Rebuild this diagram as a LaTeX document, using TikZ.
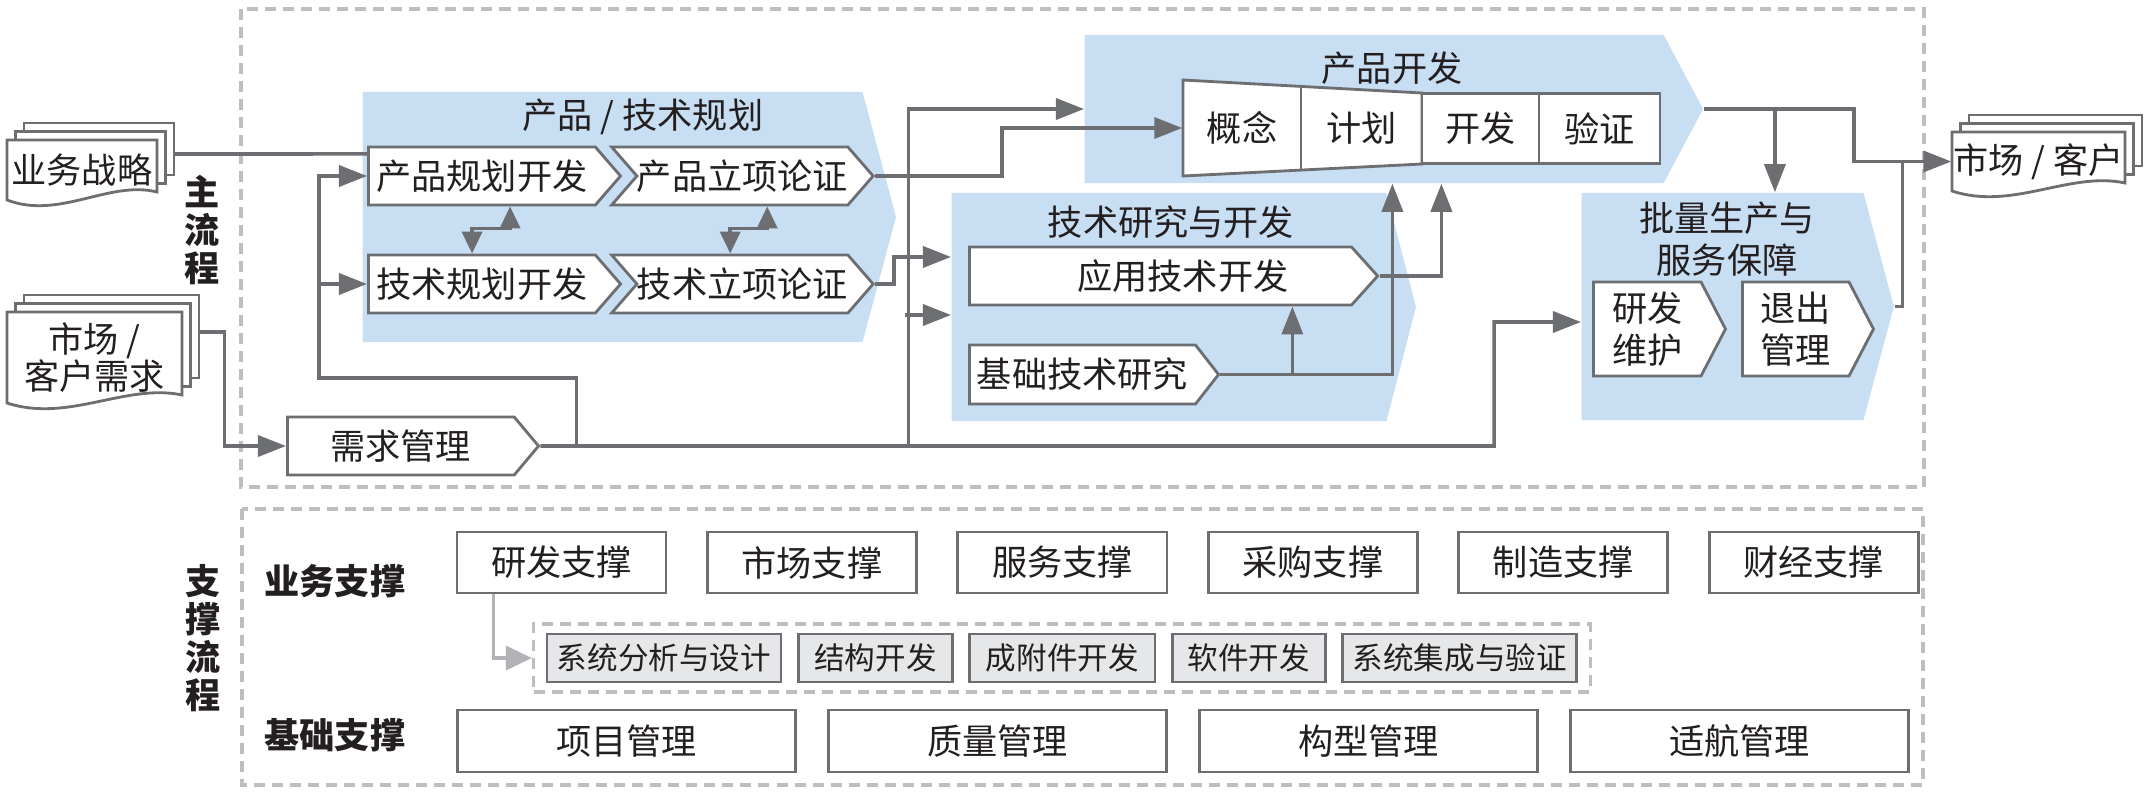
\documentclass[tikz,border=0pt]{standalone}
\usepackage{fontspec}
\newfontfamily\cjk{Noto Sans CJK SC}
\usetikzlibrary{positioning,shapes.symbols,arrows.meta,fit}

\definecolor{zoneblue}{HTML}{C8DEF2}
\definecolor{linegray}{HTML}{6D6E71}
\definecolor{dashgray}{HTML}{BCBEC0}
\definecolor{cellgray}{HTML}{E6E7E8}
\definecolor{inkblack}{HTML}{231F20}
\definecolor{softgray}{HTML}{B1B3B6}

% stack of documents with a wavy front page
\newcommand\docpile[6]{%
  \draw[page] (#2+17,#3-17) rectangle (#2+#4+17,#3+#5-17);
  \draw[page] (#2+8.5,#3-8.5) rectangle (#2+#4+8.5,#3+#5-8.5);
  \draw[page] (#2,#3) -- (#2+#4,#3) -- (#2+#4,#3+#5)
    .. controls (#2+0.68*#4,#3+#5-12) and (#2+0.35*#4,#3+#5+28) .. (#2,#3+#5+8) -- cycle;
  \node[doctext, minimum width=#4*0.01cm, minimum height=#5*0.01cm] (#1) at (#2+0.5*#4,#3+0.5*#5+4) {#6};
}

\begin{document}
\begin{tikzpicture}[x=0.01cm, y=-0.01cm, node distance=0.385cm,
    every node/.style={font=\cjk\fontsize{10}{12}\selectfont, text=inkblack},
    zone/.style={signal, signal to=east, fill=zoneblue, draw=none, inner sep=0pt, anchor=west},
    stage/.style={signal, signal to=east, draw=linegray, line width=0.8pt, fill=white, inner sep=0pt,
      minimum height=0.58cm, signal pointer angle=98, anchor=west, align=center},
    flow/.style={draw=linegray, line width=1pt},
    arr/.style={flow, -{Triangle[length=0.28cm,width=0.21cm]}},
    twoway/.style={flow, {Triangle[length=0.22cm,width=0.2cm]}-{Triangle[length=0.22cm,width=0.2cm]}},
    softarr/.style={draw=softgray, line width=1pt, -{Triangle[length=0.26cm,width=0.24cm]}},
    ztitle/.style={inner sep=0pt, align=center},
    cell/.style={inner sep=0pt, minimum height=0.96cm},
    page/.style={draw=linegray, line width=0.8pt, fill=white},
    doctext/.style={inner sep=0pt, align=center, font=\cjk\fontsize{10}{10.4}\selectfont},
    supbox/.style={draw=linegray, line width=0.8pt, fill=white, minimum width=2.09cm, minimum height=0.61cm, inner sep=0pt},
    basebox/.style={supbox, minimum width=3.38cm, minimum height=0.62cm},
    subbox/.style={supbox, fill=cellgray, minimum height=0.48cm, font=\cjk\fontsize{8.7}{10}\selectfont},
    dashframe/.style={draw=dashgray, line width=0.9pt, dash pattern=on 0.11cm off 0.07cm},
    lbl/.style={inner sep=0pt, align=center, font=\cjk\bfseries\fontsize{10}{10.8}\selectfont}]
  \useasboundingbox (0,0) rectangle (2150,797);

  % frames
  \draw[dashframe] (241,9) rectangle (1924,487);
  \draw[dashframe] (242,509) rectangle (1923,785);
  \node[lbl] (mainlbl) at (202,230) {主\\流\\程};
  \node[lbl] (suplbl) at (203,638) {支\\撑\\流\\程};

  % blue stages
  \node[zone, minimum width=5.33cm, minimum height=2.5cm, signal pointer angle=150] (zplan) at (362,217) {};
  \node[zone, minimum width=6.18cm, minimum height=1.48cm, signal pointer angle=124] (zdev) at (1084,109) {};
  \node[zone, minimum width=4.64cm, minimum height=2.28cm, signal pointer angle=151] (ztech) at (951,307) {};
  \node[zone, minimum width=3.12cm, minimum height=2.27cm, signal pointer angle=150] (zmass) at (1581,306.5) {};
  \node[ztitle] (zplan-t) at (643,117) {产品 / 技术规划};
  \node[ztitle] (zdev-t) at (1392,68) {产品开发};
  \node[ztitle] (ztech-t) at (1171,222) {技术研究与开发};
  \node[ztitle] (zmass-t) at (1727,239) {批量生产与\\服务保障};

  % inputs and output
  \docpile{strat}{7}{140}{150}{52}{业务战略}
  \docpile{mreq}{7}{312}{175}{83}{市场 /\\客户需求}
  \docpile{mkt}{1952}{132}{173}{51}{市场 / 客户}

  % planning
  \node[stage, minimum width=2.52cm] (pplan) at (367,176) {产品规划开发};
  \node[stage, minimum width=2.38cm, signal from=west, anchor=east] (pprop) at (875,176) {产品立项论证};
  \node[stage, minimum width=2.52cm] (tplan) at (367,284) {技术规划开发};
  \node[stage, minimum width=2.38cm, signal from=west, anchor=east] (tprop) at (875,284) {技术立项论证};
  \node[stage, minimum width=2.51cm, signal pointer angle=100] (req) at (286,446) {需求管理};

  % product development funnel
  \draw[page] (1183,80) -- (1422,93) -- (1422,164) -- (1183,176) -- cycle;
  \draw[page] (1301,86.5) -- (1301,169.5);
  \node[cell, minimum width=1.18cm] (concept) at (1242,128) {概念};
  \node[cell, minimum width=1.21cm] (fplan) at (1361.5,128) {计划};
  \node[supbox, minimum width=1.17cm, minimum height=0.7cm] (devel) at (1480.5,128.5) {开发};
  \node[supbox, minimum width=1.21cm, minimum height=0.7cm] (verify) at (1599.5,128.5) {验证};

  % technology
  \node[stage, minimum width=4.08cm, signal pointer angle=96] (app) at (968,276) {\hspace{0.45cm}应用技术开发};
  \node[stage, minimum width=2.49cm, minimum height=0.59cm, signal pointer angle=104] (base) at (968,374.5) {基础技术研究};

  % production and service
  \node[stage, minimum width=1.32cm, minimum height=0.94cm, signal pointer angle=125] (maint) at (1592,329) {研发\\维护};
  \node[stage, minimum width=1.31cm, minimum height=0.94cm, signal pointer angle=125] (exit) at (1741,329) {退出\\管理};

  % connectors
  \draw[flow] ([shift={(17,-16)}]strat.east) -- ([yshift=0.22cm]pplan.west);
  \draw[arr] ([shift={(17,-25.5)}]mreq.east) -- ++(25,0) |- (req.west);
  \draw[arr] (req.east) -| ([shift={(-87,15.5)}]zmass.west) -- ([yshift=-0.155cm]zmass.west);
  \draw[arr] ([xshift=0.36cm]req.east) -- ++(0,-68) -| ([xshift=-0.48cm]pplan.west) -- (pplan.west);
  \draw[arr] ([xshift=-0.48cm]tplan.west) -- (tplan.west);
  \draw[arr] ([xshift=3.68cm]req.east) |- (zdev.west);
  \draw[arr] ([shift={(-46,8)}]ztech.west) -- ([yshift=-0.08cm]ztech.west);
  \draw[arr] (tprop.east) -- ++(19,0) |- ([yshift=0.5cm]ztech.west);
  \draw[arr] (pprop.east) -- ++(127,0) |- (concept.west);
  \draw[twoway] ([xshift=1.43cm]pplan.west |- pplan.south) -- ++(0,22) -| ([xshift=1.05cm]tplan.west |- tplan.north);
  \draw[twoway] ([xshift=4cm]pplan.west |- pprop.south) -- ++(0,22) -| ([xshift=3.63cm]tplan.west |- tprop.north);
  \draw[arr] (base.east) -| ([xshift=2.1cm]concept.west |- zdev.south);
  \draw[arr] ([xshift=0.72cm]base.east) -- ([xshift=0.72cm]base.east |- app.south);
  \draw[arr] (app.east) -| ([xshift=2.59cm]concept.west |- zdev.south);
  \draw[arr] (zdev.east) -- ++(150,0) |- (mkt.west);
  \draw[arr] ([xshift=0.71cm]zdev.east) -- ([xshift=0.71cm]zdev.east |- zmass.north);
  \draw[flow] (zmass.east) -| ([xshift=-0.49cm]mkt.west);

  % support processes
  \node[lbl] (bizlbl) at (335,581) {业务支撑};
  \node[lbl] (baselbl) at (335,735) {基础支撑};
  \node[supbox] (s1) at (561.5,562.5) {研发支撑};
  \node[supbox, right=of s1] (s2) {市场支撑};
  \node[supbox, right=of s2] (s3) {服务支撑};
  \node[supbox, right=of s3] (s4) {采购支撑};
  \node[supbox, right=of s4] (s5) {制造支撑};
  \node[supbox, right=of s5] (s6) {财经支撑};
  \node[subbox, minimum width=2.34cm] (c1) at (664,658) {系统分析与设计};
  \node[subbox, minimum width=1.54cm, right=0.145cm of c1] (c2) {结构开发};
  \node[subbox, minimum width=1.85cm, right=0.145cm of c2] (c3) {成附件开发};
  \node[subbox, minimum width=1.53cm, right=0.145cm of c3] (c4) {软件开发};
  \node[subbox, minimum width=2.34cm, right=0.145cm of c4] (c5) {系统集成与验证};
  \node[dashframe, fit=(c1)(c5), inner xsep=0.12cm, inner ysep=0.085cm] (inner) {};
  \draw[softarr] ([xshift=0.38cm]s1.south west) |- (inner.west);
  \node[basebox] (b1) at (626.5,741) {项目管理};
  \node[basebox, right=0.3cm of b1] (b2) {质量管理};
  \node[basebox, right=0.3cm of b2] (b3) {构型管理};
  \node[basebox, right=0.3cm of b3] (b4) {适航管理};
\end{tikzpicture}
\end{document}
